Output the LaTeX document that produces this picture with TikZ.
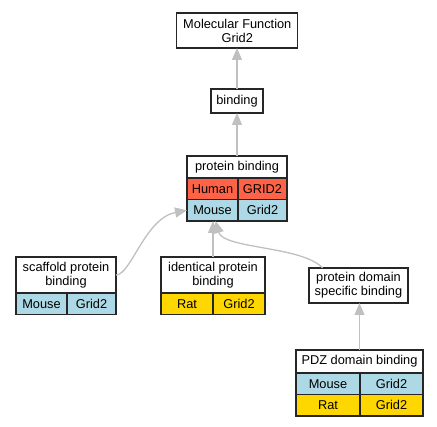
\documentclass[tikz,border=0pt]{standalone}
\usepackage{fontspec}
\setmainfont{Liberation Sans}
\usepackage{tikz}
\usetikzlibrary{arrows.meta,positioning}
\definecolor{humanred}{HTML}{FF6347}
\definecolor{mouseblue}{HTML}{ADD8E6}
\definecolor{ratgold}{HTML}{FFD700}
\definecolor{edgegray}{HTML}{C0C0C0}

\begin{document}
\begin{tikzpicture}[x=1pt,y=-1pt,>={Triangle[length=12pt,width=10pt]}]
\tikzset{term/.style={draw=black!85,line width=1.2pt,fill=white,align=center,inner sep=0pt,outer sep=0pt,font=\fontsize{12.8}{14}\selectfont},
  cell/.style={term,anchor=north west,minimum height=21.5pt},
  human/.style={cell,fill=humanred},
  mouse/.style={cell,fill=mouseblue},
  rat/.style={cell,fill=ratgold},
  isa/.style={->,draw=edgegray,line width=1.3pt}}
\useasboundingbox (0,0) rectangle (437,427);
% terms
\node[term,minimum width=121pt,minimum height=35pt] (mf) at (237.3,30.5) {Molecular Function\\Grid2};
\node[term,minimum width=52pt,minimum height=24pt] (binding) at (237,101) {binding};
\node[term,minimum width=100pt,minimum height=22pt] (pb) at (237,167) {protein binding};
\node[human,minimum width=51pt] (pbHuman) at (pb.south west) {Human};
\node[human,minimum width=49pt] (pbHumanGene) at (pbHuman.north east) {GRID2};
\node[mouse,minimum width=51pt] (pbMouse) at (pbHuman.south west) {Mouse};
\node[mouse,minimum width=49pt] (pbMouseGene) at (pbMouse.north east) {Grid2};
\node[term,minimum width=100pt,minimum height=36pt] (scaffold) at (66,275) {scaffold protein\\binding};
\node[mouse,minimum width=51pt] (scMouse) at (scaffold.south west) {Mouse};
\node[mouse,minimum width=49pt] (scMouseGene) at (scMouse.north east) {Grid2};
\node[term,minimum width=104pt,minimum height=36pt] (identical) at (213,275) {identical protein\\binding};
\node[rat,minimum width=52pt] (idRat) at (identical.south west) {Rat};
\node[rat,minimum width=52pt] (idRatGene) at (idRat.north east) {Grid2};
\node[term,minimum width=99pt,minimum height=35pt] (pdsb) at (358.5,285.5) {protein domain\\specific binding};
\node[term,minimum width=127pt,minimum height=23pt] (pdz) at (359.5,361.5) {PDZ domain binding};
\node[mouse,minimum width=64pt] (pdzMouse) at (pdz.south west) {Mouse};
\node[mouse,minimum width=63pt] (pdzMouseGene) at (pdzMouse.north east) {Grid2};
\node[rat,minimum width=64pt] (pdzRat) at (pdzMouse.south west) {Rat};
\node[rat,minimum width=63pt] (pdzRatGene) at (pdzRat.north east) {Grid2};
% is_a links
\draw[isa] (binding.north) -- (binding.north |- mf.south);
\draw[isa] (pb.north) -- (pb.north |- binding.south);
\draw[isa] (scaffold.east) .. controls +(15,0) and +(-42,8) .. (pbMouse.west);
\draw[isa] (identical.north) -- (identical.north |- pbMouse.south);
\draw[isa] ([xshift=-36pt]pdsb.north) .. controls +(-20,-22) and +(8,28) .. ([xshift=3pt]pbMouse.south);
\draw[isa] (pdz.north) -- (pdz.north |- pdsb.south);
\end{tikzpicture}
\end{document}
